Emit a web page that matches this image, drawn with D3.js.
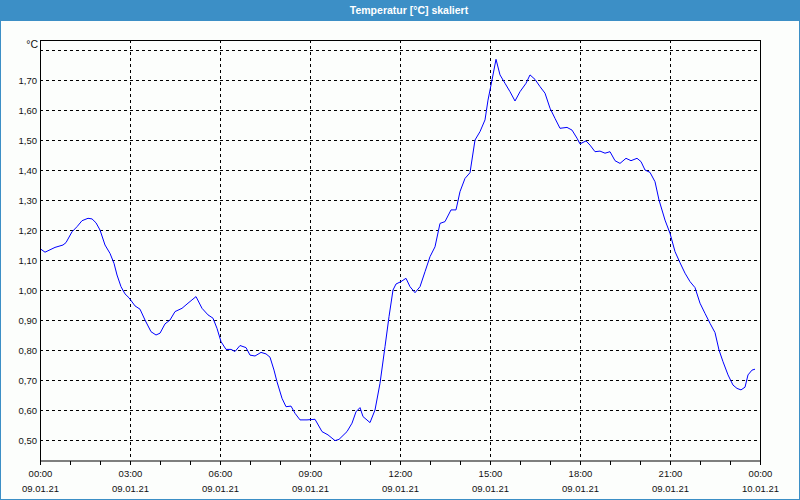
<!DOCTYPE html>
<html><head><meta charset="utf-8">
<script src="https://cdn.jsdelivr.net/npm/d3@7"></script>
<style>
html,body{margin:0;padding:0;background:#fff;}
svg{display:block;}
</style></head>
<body>
<script>
const title = "Temperatur [°C] skaliert";
const unitLabel = "°C";
// minutes since 09.01.21 00:00
const times = [0,10,30,46,52,64,74,84,96,104,112,120,130,140,148,154,162,170,178,190,200,210,222,232,240,250,260,270,284,296,312,324,336,346,354,362,372,382,390,400,412,420,430,442,452,460,468,474,484,492,502,510,520,534,550,564,576,590,598,614,624,632,640,646,660,670,680,690,698,706,712,722,732,740,750,760,770,780,790,800,810,822,832,840,850,860,870,880,890,896,904,912,920,930,940,950,960,972,980,990,1000,1010,1020,1030,1040,1054,1064,1074,1080,1092,1100,1110,1120,1130,1140,1150,1160,1172,1182,1194,1202,1210,1220,1230,1238,1250,1260,1270,1280,1290,1300,1310,1320,1330,1340,1350,1358,1366,1376,1386,1394,1402,1410,1416,1424,1430];
const values = [1.138,1.126,1.142,1.15,1.158,1.194,1.211,1.231,1.239,1.237,1.224,1.20,1.15,1.122,1.089,1.05,1.011,0.987,0.974,0.947,0.936,0.90,0.861,0.85,0.856,0.887,0.90,0.928,0.939,0.956,0.978,0.939,0.917,0.906,0.872,0.828,0.802,0.802,0.795,0.815,0.808,0.783,0.78,0.792,0.787,0.776,0.733,0.694,0.639,0.611,0.613,0.589,0.567,0.567,0.569,0.528,0.517,0.498,0.502,0.528,0.556,0.594,0.608,0.578,0.558,0.60,0.689,0.811,0.911,1.00,1.02,1.028,1.039,1.011,0.991,1.011,1.061,1.111,1.144,1.222,1.228,1.267,1.267,1.328,1.372,1.391,1.50,1.528,1.567,1.633,1.70,1.769,1.717,1.689,1.661,1.63,1.661,1.689,1.717,1.702,1.678,1.656,1.606,1.572,1.539,1.542,1.533,1.506,1.487,1.497,1.483,1.461,1.463,1.456,1.461,1.431,1.422,1.439,1.431,1.439,1.428,1.40,1.392,1.361,1.30,1.233,1.189,1.128,1.091,1.056,1.028,1.008,0.956,0.922,0.889,0.858,0.80,0.761,0.717,0.683,0.672,0.667,0.676,0.717,0.733,0.736];
const yTicks = [0.5,0.6,0.7,0.8,0.9,1.0,1.1,1.2,1.3,1.4,1.5,1.6,1.7];
const yGrid = [0.5,0.6,0.7,0.8,0.9,1.0,1.1,1.2,1.3,1.4,1.5,1.6,1.7,1.8];
const xMajor = [0,180,360,540,720,900,1080,1260,1440];
const timeLabels = ["00:00","03:00","06:00","09:00","12:00","15:00","18:00","21:00","00:00"];
const dateLabels = ["09.01.21","09.01.21","09.01.21","09.01.21","09.01.21","09.01.21","09.01.21","09.01.21","10.01.21"];
const xMinor = d3.range(0,1441,60);

const W=800,H=500;
const L=40,R=760,T=40,B=460;
const svg=d3.select("body").append("svg").attr("width",W).attr("height",H);
svg.append("rect").attr("width",W).attr("height",H).attr("fill","#fcfefc");
// window frame
svg.append("rect").attr("x",0.5).attr("y",0.5).attr("width",W-1).attr("height",H-1)
  .attr("fill","none").attr("stroke","#3c8fc6").attr("stroke-width",1);
svg.append("rect").attr("x",0).attr("y",0).attr("width",W).attr("height",21).attr("fill","#3c8fc6");
svg.append("text").attr("x",409).attr("y",13.5).attr("text-anchor","middle")
  .attr("fill","#fff").attr("font-family","Liberation Sans, Arial, sans-serif")
  .attr("font-size","10.5px").attr("font-weight","bold").text(title);

const x=d3.scaleLinear().domain([0,1440]).range([L,R]);
const y=d3.scaleLinear().domain([0.5,1.8]).range([440,50]);
const fmt=v=>d3.format(".2f")(v).replace(".",",");
const font="Liberation Sans, Arial, sans-serif";

const g=svg.append("g");
// grid
g.selectAll("line.hg").data(yGrid).join("line")
  .attr("x1",L).attr("x2",R).attr("y1",d=>Math.round(y(d))+0.5).attr("y2",d=>Math.round(y(d))+0.5)
  .attr("stroke","#000").attr("stroke-dasharray","3,3").attr("shape-rendering","crispEdges");
g.selectAll("line.vg").data(xMajor.slice(1,-1)).join("line")
  .attr("y1",T).attr("y2",B).attr("x1",d=>Math.round(x(d))+0.5).attr("x2",d=>Math.round(x(d))+0.5)
  .attr("stroke","#000").attr("stroke-dasharray","3,3").attr("shape-rendering","crispEdges");

// line
const line=d3.line().x((d,i)=>x(times[i])).y(d=>y(d));
g.append("path").datum(values).attr("d",line).attr("fill","none").attr("stroke","#0000ff").attr("stroke-width",1);

// frame
g.append("path").attr("d",`M${L+0.5},${B+3}V${T+0.5}H${R+0.5}V${B+0.5}`).attr("fill","none").attr("stroke","#000").attr("shape-rendering","crispEdges");

// x axis
const xAxis=d3.axisBottom(x).tickValues(xMinor).tickSize(4).tickFormat("");
const xa=svg.append("g").attr("transform",`translate(0,${B+0.5})`).call(xAxis);
xa.select(".domain").attr("d",`M${L},0.5H${R+1}`).attr("stroke","#000");
xa.selectAll(".tick line").attr("stroke","#000").attr("shape-rendering","crispEdges");

svg.selectAll("text.tl").data(xMajor).join("text")
  .attr("x",d=>x(d)+0.5).attr("y",477).attr("text-anchor","middle")
  .attr("font-family",font).attr("font-size","9.5px").attr("fill","#111")
  .text((d,i)=>timeLabels[i]);
svg.selectAll("text.dl").data(xMajor).join("text")
  .attr("x",d=>x(d)+0.5).attr("y",492).attr("text-anchor","middle")
  .attr("font-family",font).attr("font-size","9.5px").attr("fill","#111")
  .text((d,i)=>dateLabels[i]);

// y labels
svg.selectAll("text.yl").data(yTicks).join("text")
  .attr("x",37).attr("y",d=>y(d)+3.5).attr("text-anchor","end")
  .attr("font-family",font).attr("font-size","9.5px").attr("fill","#111")
  .text(d=>fmt(d));
svg.append("text").attr("x",38).attr("y",y(1.8)-2).attr("text-anchor","end")
  .attr("font-family",font).attr("font-size","10.5px").attr("fill","#111").text(unitLabel);
</script>
</body></html>
